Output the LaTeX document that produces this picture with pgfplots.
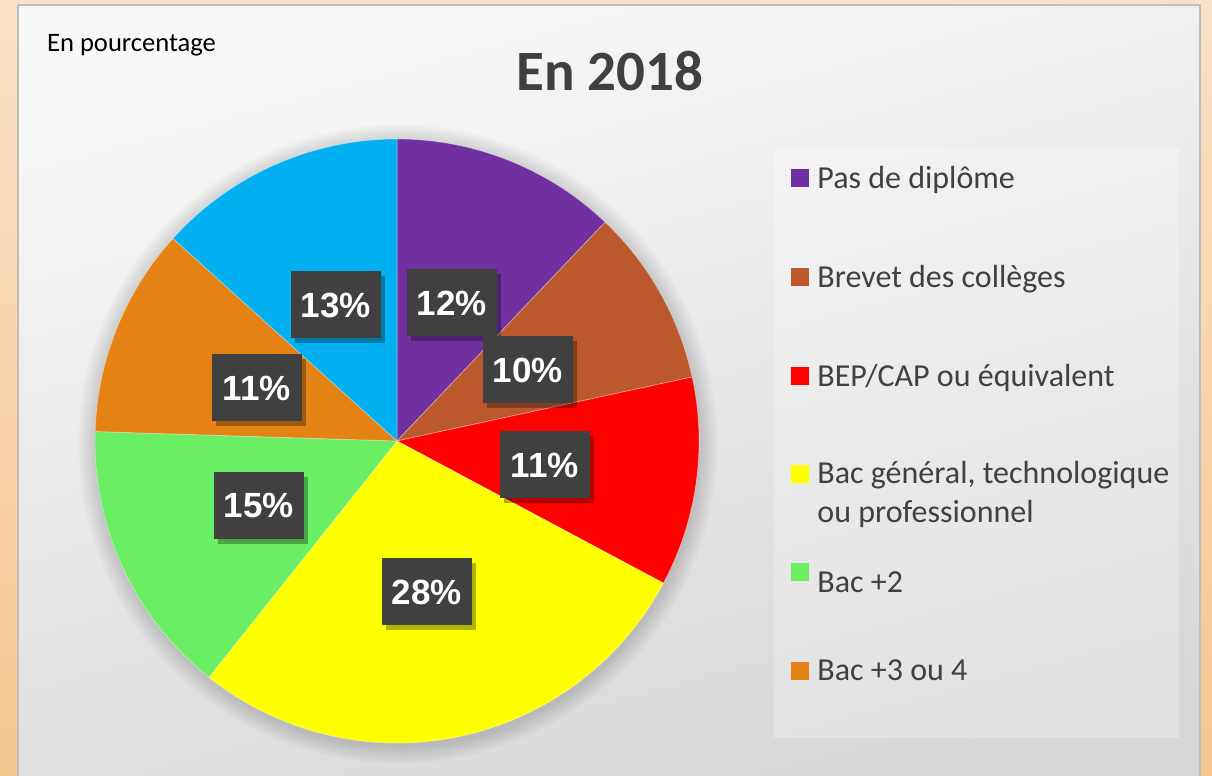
\documentclass[border=0pt]{standalone}
\usepackage{pgfplots}
\pgfplotsset{compat=1.18}
\usepackage{pgfplotstable}
\usepackage{fontspec}
\setmainfont{Carlito}
\newfontfamily\arialfont{Liberation Sans}
\usetikzlibrary{shadows}
\definecolor{cPurple}{HTML}{7030A0}
\definecolor{cBrown}{HTML}{BB582C}
\definecolor{cRed}{HTML}{FF0000}
\definecolor{cYellow}{HTML}{FFFF00}
\definecolor{cGreen}{HTML}{6AEE64}
\definecolor{cOrange}{HTML}{E48314}
\definecolor{cBlue}{HTML}{00B0F0}
\definecolor{txt}{HTML}{404040}
\definecolor{lblbox}{HTML}{404040}

% share (%), printed label, label box centre (px coords), colour
\pgfplotstableread{
value label lx ly col
12.1 12 452 473 cPurple
9.5  10 528 406 cBrown
11.2 11 545 311 cRed
27.9 28 427 184 cYellow
14.8 15 259 270 cGreen
11.2 11 257 388 cOrange
13.3 13 336 471 cBlue
}\piedata
\pgfplotstablecreatecol[create col/expr accum={\pgfmathaccuma+\thisrow{value}}{0}]{cum}{\piedata}

\def\piecmds{}
\def\lblcmds{}
\foreach \i in {0,...,6}{%
  \pgfplotstablegetelem{\i}{value}\of\piedata \let\pv\pgfplotsretval
  \pgfplotstablegetelem{\i}{cum}\of\piedata \let\pcum\pgfplotsretval
  \pgfplotstablegetelem{\i}{col}\of\piedata \let\pcol\pgfplotsretval
  \pgfplotstablegetelem{\i}{label}\of\piedata \let\plab\pgfplotsretval
  \pgfplotstablegetelem{\i}{lx}\of\piedata \let\plx\pgfplotsretval
  \pgfplotstablegetelem{\i}{ly}\of\piedata \let\ply\pgfplotsretval
  \pgfmathsetmacro\pa{90-3.6*(\pcum-\pv)}
  \pgfmathsetmacro\pb{90-3.6*\pcum}
  \xdef\piecmds{\unexpanded\expandafter{\piecmds}\noexpand\fill[fill=\pcol,draw=white,draw opacity=0.35,line width=0.4pt] (axis cs:397,335) -- ([shift={(\pa:151pt)}]axis cs:397,335) arc[start angle=\pa,end angle=\pb,radius=151pt] -- cycle;}
  \xdef\lblcmds{\unexpanded\expandafter{\lblcmds}\noexpand\node[lbl] at (axis cs:\plx,\ply) {\plab\noexpand\%};}
}

\begin{document}
\begin{tikzpicture}[
  lbl/.style={fill=lblbox, text=white, font=\arialfont\bfseries\fontsize{17.5}{20}\selectfont,
    minimum width=45pt, minimum height=33.5pt, inner sep=0pt,
    drop shadow={shadow xshift=2.2pt, shadow yshift=-2.2pt, opacity=0.3, fill=black}}]
\begin{axis}[
  hide axis, clip=false,
  xmin=0, xmax=1212, ymin=0, ymax=776,
  x=0.5pt, y=0.5pt,
]
\addplot[draw=none] coordinates {(0,0) (1212,776)};
% outer background
\shade[top color={rgb,255:red,250;green,225;blue,199}, bottom color={rgb,255:red,245;green,198;blue,144}]
  (axis cs:0,0) rectangle (axis cs:1212,776);
% inner panel
\shade[top color={rgb,255:red,248;green,248;blue,248}, bottom color={rgb,255:red,215;green,215;blue,215}, shading angle=15]
  (axis cs:18,-20) rectangle (axis cs:1200,771);
\draw[color={rgb,255:red,190;green,190;blue,190}, line width=1pt] (axis cs:18,-20) rectangle (axis cs:1200,771);
% legend panel
\fill[white, opacity=0.25] (axis cs:774,38) rectangle (axis cs:1179,628);
% pie shadow (soft halo)
\pgfplotsinvokeforeach{1,...,12}{\fill[black, opacity=0.012] (axis cs:398,332) circle[radius={151pt+#1*0.75pt}];}
\piecmds
\lblcmds
% titles
\node[anchor=base west, font=\fontsize{13.3}{16}\selectfont] at (axis cs:40,724) {En pourcentage};
\node[text=txt, font=\bfseries\fontsize{28.5}{34}\selectfont] at (axis cs:610,705) {En 2018};
% legend
\begin{scope}[every node/.style={anchor=base west, text=txt, font=\fontsize{16}{19.5}\selectfont, inner sep=0pt}]
\fill[cPurple] (axis cs:791,589) rectangle (axis cs:809,607);
\node at (axis cs:817,587) {Pas de diplôme};
\fill[cBrown] (axis cs:791,490) rectangle (axis cs:809,508);
\node at (axis cs:817,488) {Brevet des collèges};
\fill[cRed] (axis cs:791,391) rectangle (axis cs:809,409);
\node at (axis cs:817,389) {BEP/CAP ou équivalent};
\fill[cYellow] (axis cs:791,293) rectangle (axis cs:809,311);
\node at (axis cs:817,292) {Bac général, technologique};
\node at (axis cs:817,253) {ou professionnel};
\fill[cGreen] (axis cs:791,195) rectangle (axis cs:809,213);
\node at (axis cs:817,183) {Bac +2};
\fill[cOrange] (axis cs:791,96) rectangle (axis cs:809,114);
\node at (axis cs:817,95) {Bac +3 ou 4};
\end{scope}
\coordinate (BL) at (axis cs:0,0);
\coordinate (TR) at (axis cs:1212,776);
\end{axis}
\pgfresetboundingbox
\path[use as bounding box] (BL) rectangle (TR);
\end{tikzpicture}
\end{document}
